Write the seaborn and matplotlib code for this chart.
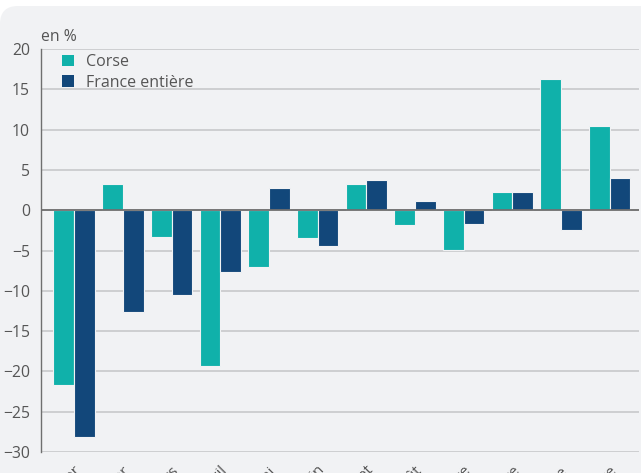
import matplotlib
matplotlib.use("Agg")
import matplotlib.pyplot as plt
from matplotlib.patches import FancyBboxPatch, Patch
import pandas as pd
import seaborn as sns

mois = ["janvier", "février", "mars", "avril", "mai", "juin", "juillet",
        "août", "septembre", "octobre", "novembre", "décembre"]
corse = [-21.7, 3.3, -3.3, -19.3, -7.0, -3.5, 3.3, -1.8, -4.9, 2.2, 16.3, 10.5]
france = [-28.2, -12.6, -10.5, -7.7, 2.7, -4.5, 3.8, 1.2, -1.7, 2.2, -2.5, 4.0]
zones = ["Corse", "France entière"]
couleurs = ["#10b1aa", "#12477a"]

df = pd.DataFrame({
    "mois": mois * 2,
    "valeur": corse + france,
    "zone": [zones[0]] * len(mois) + [zones[1]] * len(mois),
})

sns.set_theme(style="white")
plt.rcParams["font.family"] = ["Open Sans", "DejaVu Sans"]

W, H = 641, 473
fig = plt.figure(figsize=(W / 100, H / 100), dpi=100, facecolor="white")
fond = "#f1f2f4"
fig.patches.append(FancyBboxPatch((0, -60), W + 60, H - 6 + 60,
                                  boxstyle="round,pad=0,rounding_size=18",
                                  transform=None, facecolor=fond,
                                  edgecolor="none", zorder=-10))

ax = fig.add_axes([41 / W, 1 - 452 / H, (639 - 41) / W, (452 - 49) / H])
ax.set_facecolor("none")

sns.barplot(data=df, x="mois", y="valeur", hue="zone", palette=couleurs,
            width=0.85, saturation=1, edgecolor=fond, linewidth=0.8,
            ax=ax, legend=False, zorder=3)

ax.set_ylim(-30, 20)
ax.set_yticks(range(-30, 25, 5))
ax.set_xlim(-0.68, 11.6)
ax.yaxis.grid(True, color="#c8c9cb", linewidth=1.2, zorder=0)
ax.xaxis.grid(False)
ax.axhline(0, color="#6f6f6f", linewidth=1.3, zorder=4)
for s in ["top", "right", "bottom"]:
    ax.spines[s].set_visible(False)
ax.spines["left"].set_color("#6f6f6f")
ax.spines["left"].set_linewidth(1.0)
ax.set_xlabel("")
ax.set_ylabel("")
ax.tick_params(axis="y", length=0, pad=8, labelsize=11.3, labelcolor="#555555")
ax.tick_params(axis="x", length=0, pad=8, labelsize=11, labelcolor="#555555")
plt.setp(ax.get_xticklabels(), rotation=45, ha="right", rotation_mode="anchor")

ax.text(0, 1.01, "en %", transform=ax.transAxes, fontsize=11.3,
        color="#555555", ha="left", va="bottom")

poignees = [Patch(facecolor=c, edgecolor="none") for c in couleurs]
ax.legend(poignees, zones, loc="upper left", bbox_to_anchor=(0.024, 1.003),
          frameon=False, fontsize=11.5, labelcolor="#555555",
          handlelength=0.75, handleheight=0.75, handletextpad=0.75,
          labelspacing=0.28, borderaxespad=0)

fig.savefig("out.png", dpi=100, facecolor="white")
